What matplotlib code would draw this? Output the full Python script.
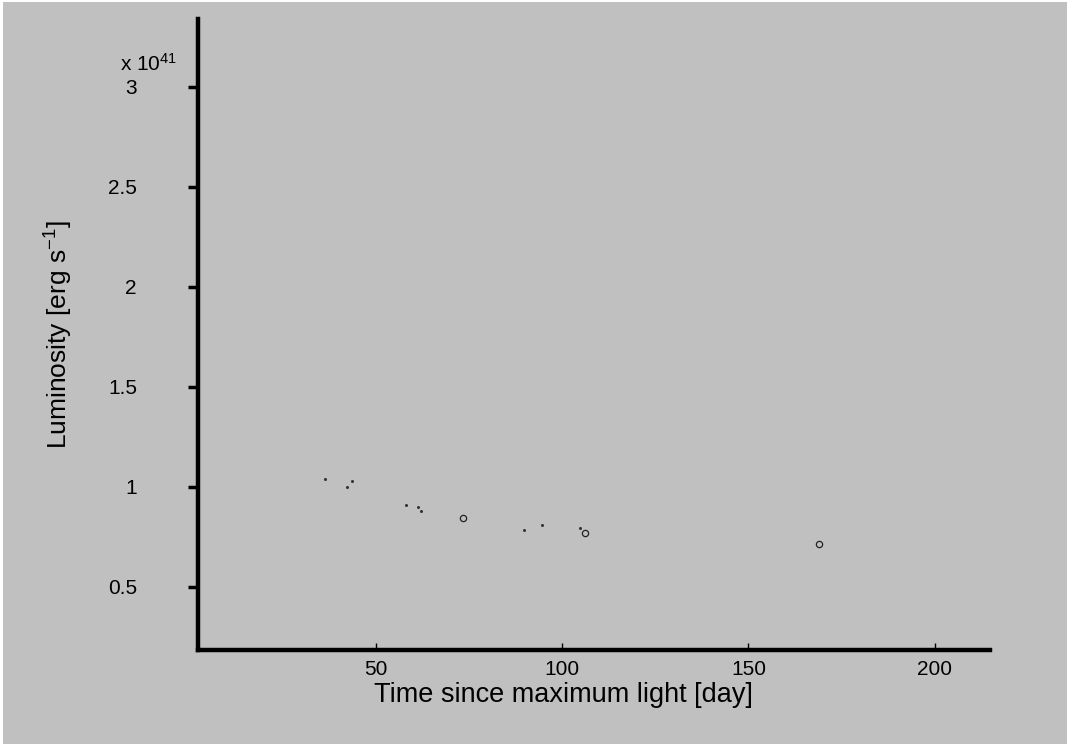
import matplotlib.pyplot as plt
from matplotlib.patches import Rectangle

plt.rcParams['font.family'] = ['Liberation Sans', 'DejaVu Sans']
plt.rcParams['mathtext.fontset'] = 'custom'
plt.rcParams['mathtext.rm'] = 'Liberation Sans'
plt.rcParams['mathtext.it'] = 'Liberation Sans:italic'

# luminosity in units of 1e41 erg/s
days_dot = [36.4, 42.3, 43.7, 58.2, 61.4, 62.2, 89.8, 94.6, 104.8]
lum_dot = [1.038, 0.998, 1.028, 0.908, 0.898, 0.878, 0.783, 0.808, 0.793]
days_circ = [73.4, 106.2, 168.9]
lum_circ = [0.843, 0.768, 0.713]

xticks = [50, 100, 150, 200]
yticks = [0.5, 1, 1.5, 2, 2.5, 3]
ytick_labels = ['0.5', '1', '1.5', '2', '2.5', '3']

W, H = 1067, 744
fig = plt.figure(figsize=(W / 100, H / 100), dpi=100, facecolor='#c0c0c0')
# thin white border on the left and top
fig.patches.append(Rectangle((0, 0), 3 / W, 1, transform=fig.transFigure,
                             facecolor='white', edgecolor='none', zorder=-1))
fig.patches.append(Rectangle((0, 1 - 2 / H), 1, 2 / H, transform=fig.transFigure,
                             facecolor='white', edgecolor='none', zorder=-1))

ax = fig.add_axes([198 / W, 1 - 650 / H, (990 - 198) / W, (650 - 19) / H])
ax.set_facecolor('#c0c0c0')

ax.plot(days_dot, lum_dot, linestyle='none', marker='o', markersize=2.2,
        color='#333333', markeredgewidth=0)
ax.plot(days_circ, lum_circ, linestyle='none', marker='o', markersize=4.5,
        markerfacecolor='none', markeredgecolor='#222222', markeredgewidth=0.9)

ax.set_xlim(2.36, 214.8)
ax.set_ylim(0.183, 3.34)

for s in ['top', 'right']:
    ax.spines[s].set_visible(False)
for s in ['left', 'bottom']:
    ax.spines[s].set_linewidth(3.2)
    ax.spines[s].set_color('black')

ax.set_xticks(xticks)
ax.set_yticks(yticks)
ax.set_yticklabels(ytick_labels)
ax.tick_params(axis='x', direction='in', length=5, width=1, labelsize=15, pad=7)
ax.tick_params(axis='y', direction='out', length=7, width=2.5, labelsize=15, pad=37)

ax.set_xlabel('Time since maximum light [day]', fontsize=19.5)
ax.xaxis.set_label_coords(0.461, -0.05)
ax.set_ylabel('Luminosity [erg s$^{-1}$]', fontsize=19)
ax.yaxis.set_label_coords(-0.155, 0.5)

fig.text(120 / W, 1 - 64 / H, 'x 10$^{41}$', fontsize=15, ha='left', va='center')

fig.savefig('out.png', dpi=100, facecolor=fig.get_facecolor())
